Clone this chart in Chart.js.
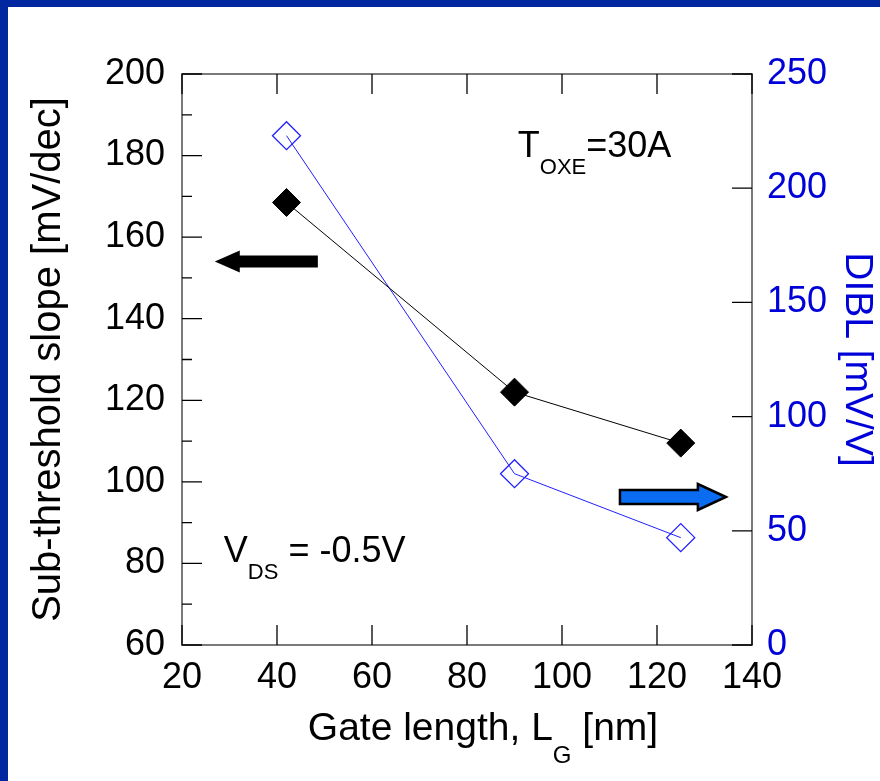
<!DOCTYPE html>
<html>
<head>
<meta charset="utf-8">
<script src="https://cdn.jsdelivr.net/npm/chart.js@4"></script>
<style>
  body { margin: 0; background: #fff; }
  canvas { display: block; }
</style>
</head>
<body>
<canvas id="dibl" width="880" height="781"></canvas>
<script>
// gate length [nm]
const gateLength = [42, 90, 125];
// sub-threshold slope [mV/dec], left axis
const slope = [168.5, 122, 109.5];
// DIBL [mV/V], right axis
const dibl = [223, 75, 47];

const xTicks = [20, 40, 60, 80, 100, 120, 140];
const slopeTicks = [60, 80, 100, 120, 140, 160, 180, 200];
const slopeMinor = [70, 90, 110, 130, 150, 170, 190];
const diblTicks = [0, 50, 100, 150, 200, 250];

const FONT = "'Liberation Sans', Arial, sans-serif";
const BLUE_TXT = "#0000d8";

// text with a subscript part, drawn left to right
function subText(ctx, x, y, parts) {
  ctx.textAlign = "left";
  ctx.textBaseline = "alphabetic";
  let cx = x;
  parts.forEach(p => {
    ctx.font = p.size + "px " + FONT;
    ctx.fillText(p.t, cx, y + (p.dy || 0));
    cx += ctx.measureText(p.t).width;
  });
  return cx - x;
}

function partsWidth(ctx, parts) {
  let w = 0;
  parts.forEach(p => {
    ctx.font = p.size + "px " + FONT;
    w += ctx.measureText(p.t).width;
  });
  return w;
}

const framePlugin = {
  id: "frame",
  beforeDraw(chart) {
    const ctx = chart.ctx;
    ctx.save();
    ctx.fillStyle = "#fff";
    ctx.fillRect(0, 0, chart.width, chart.height);
    ctx.fillStyle = "#0026a0";
    ctx.fillRect(0, 0, chart.width, 7);
    ctx.fillRect(0, 0, 8, chart.height);
    ctx.restore();
  },
  beforeDatasetsDraw(chart) {
    const ctx = chart.ctx;
    const a = chart.chartArea;
    const sx = chart.scales.x, sy = chart.scales.y, sy1 = chart.scales.y1;
    ctx.save();
    ctx.strokeStyle = "#7a7a7a";
    ctx.lineWidth = 2;
    ctx.strokeRect(a.left, a.top, a.right - a.left, a.bottom - a.top);

    ctx.strokeStyle = "#000";
    ctx.lineWidth = 1.3;
    ctx.beginPath();
    xTicks.forEach(v => {
      const px = sx.getPixelForValue(v);
      ctx.moveTo(px, a.bottom); ctx.lineTo(px, a.bottom - 20);
      ctx.moveTo(px, a.top); ctx.lineTo(px, a.top + 20);
    });
    slopeTicks.forEach(v => {
      const py = sy.getPixelForValue(v);
      ctx.moveTo(a.left, py); ctx.lineTo(a.left + 20, py);
    });
    slopeMinor.forEach(v => {
      const py = sy.getPixelForValue(v);
      ctx.moveTo(a.left, py); ctx.lineTo(a.left + 10, py);
    });
    diblTicks.forEach(v => {
      const py = sy1.getPixelForValue(v);
      ctx.moveTo(a.right, py); ctx.lineTo(a.right - 20, py);
    });
    ctx.stroke();
    ctx.restore();
  },
  afterDatasetsDraw(chart) {
    const ctx = chart.ctx;
    const sx = chart.scales.x, sy = chart.scales.y, sy1 = chart.scales.y1;
    ctx.save();
    ctx.fillStyle = "#000";

    // T_OXE = 30A
    subText(ctx, sx.getPixelForValue(90.7), sy.getPixelForValue(179.6), [
      { t: "T", size: 36 },
      { t: "OXE", size: 22, dy: 17 },
      { t: "=30A", size: 36 }
    ]);
    // V_DS = -0.5V
    subText(ctx, sx.getPixelForValue(28.8), sy.getPixelForValue(80.3), [
      { t: "V", size: 36 },
      { t: "DS", size: 22, dy: 17 },
      { t: " = -0.5V", size: 36 }
    ]);

    // x axis title with subscript
    const xt = [
      { t: "Gate length, L", size: 39 },
      { t: "G", size: 24, dy: 23 },
      { t: " [nm]", size: 39 }
    ];
    const w = partsWidth(ctx, xt);
    subText(ctx, 483 - w / 2, 740, xt);

    // black arrow to the left axis
    const bTip = sx.getPixelForValue(26.9), bTail = sx.getPixelForValue(48.6);
    const by = sy.getPixelForValue(154);
    ctx.beginPath();
    ctx.moveTo(bTip, by);
    ctx.lineTo(bTip + 25, by - 11);
    ctx.lineTo(bTip + 25, by - 6);
    ctx.lineTo(bTail, by - 6);
    ctx.lineTo(bTail, by + 6);
    ctx.lineTo(bTip + 25, by + 6);
    ctx.lineTo(bTip + 25, by + 11);
    ctx.closePath();
    ctx.fill();

    // blue arrow to the right axis
    const rTail = sx.getPixelForValue(112.2), rTip = sx.getPixelForValue(134.5);
    const ry = sy1.getPixelForValue(64.8);
    ctx.beginPath();
    ctx.moveTo(rTip, ry);
    ctx.lineTo(rTip - 28, ry - 13);
    ctx.lineTo(rTip - 28, ry - 7);
    ctx.lineTo(rTail, ry - 7);
    ctx.lineTo(rTail, ry + 7);
    ctx.lineTo(rTip - 28, ry + 7);
    ctx.lineTo(rTip - 28, ry + 13);
    ctx.closePath();
    ctx.fillStyle = "#0a6cf0";
    ctx.fill();
    ctx.lineWidth = 2.5;
    ctx.lineJoin = "miter";
    ctx.strokeStyle = "#000";
    ctx.stroke();
    ctx.restore();
  }
};

const ctx = document.querySelector("#dibl");
const graph = new Chart(ctx, {
  type: "line",
  data: {
    datasets: [
      {
        label: "Sub-threshold slope",
        data: gateLength.map((x, i) => ({ x: x, y: slope[i] })),
        yAxisID: "y",
        borderColor: "#000",
        borderWidth: 1,
        pointStyle: "rectRot",
        pointRadius: 14,
        pointBackgroundColor: "#000",
        pointBorderColor: "#000",
        pointBorderWidth: 1,
        tension: 0,
      },
      {
        label: "DIBL",
        data: gateLength.map((x, i) => ({ x: x, y: dibl[i] })),
        yAxisID: "y1",
        borderColor: "#2020ff",
        borderWidth: 1,
        pointStyle: "rectRot",
        pointRadius: 14,
        pointBackgroundColor: "rgba(0,0,0,0)",
        pointBorderColor: "#2020ff",
        pointBorderWidth: 1.3,
        tension: 0,
      },
    ],
  },
  options: {
    responsive: false,
    animation: false,
    layout: { padding: { top: 74, left: 0, right: 0, bottom: 0 } },
    plugins: {
      legend: { display: false },
      tooltip: { enabled: false },
    },
    scales: {
      x: {
        type: "linear",
        position: "bottom",
        min: 20,
        max: 140,
        grid: { display: false, drawTicks: false },
        border: { display: false },
        ticks: {
          stepSize: 20,
          padding: 11,
          color: "#000",
          maxRotation: 0,
          font: { family: FONT, size: 36 },
        },
        afterFit: s => { s.height = 136; },
      },
      y: {
        position: "left",
        min: 60,
        max: 200,
        grid: { display: false, drawTicks: false },
        border: { display: false },
        ticks: {
          stepSize: 20,
          padding: 17,
          color: "#000",
          font: { family: FONT, size: 36 },
        },
        title: {
          display: true,
          text: "Sub-threshold slope [mV/dec]",
          color: "#000",
          font: { family: FONT, size: 40 },
          padding: { top: 25, bottom: 0 },
        },
        afterFit: s => { s.width = 182; },
      },
      y1: {
        position: "right",
        min: 0,
        max: 250,
        grid: { display: false, drawTicks: false },
        border: { display: false },
        ticks: {
          stepSize: 50,
          padding: 15,
          color: BLUE_TXT,
          font: { family: FONT, size: 36 },
        },
        title: {
          display: true,
          text: "DIBL [mV/V]",
          color: BLUE_TXT,
          font: { family: FONT, size: 39 },
          padding: { top: 0, bottom: 0 },
        },
        afterFit: s => { s.width = 128; },
      },
    },
  },
  plugins: [framePlugin],
});
</script>
</body>
</html>
